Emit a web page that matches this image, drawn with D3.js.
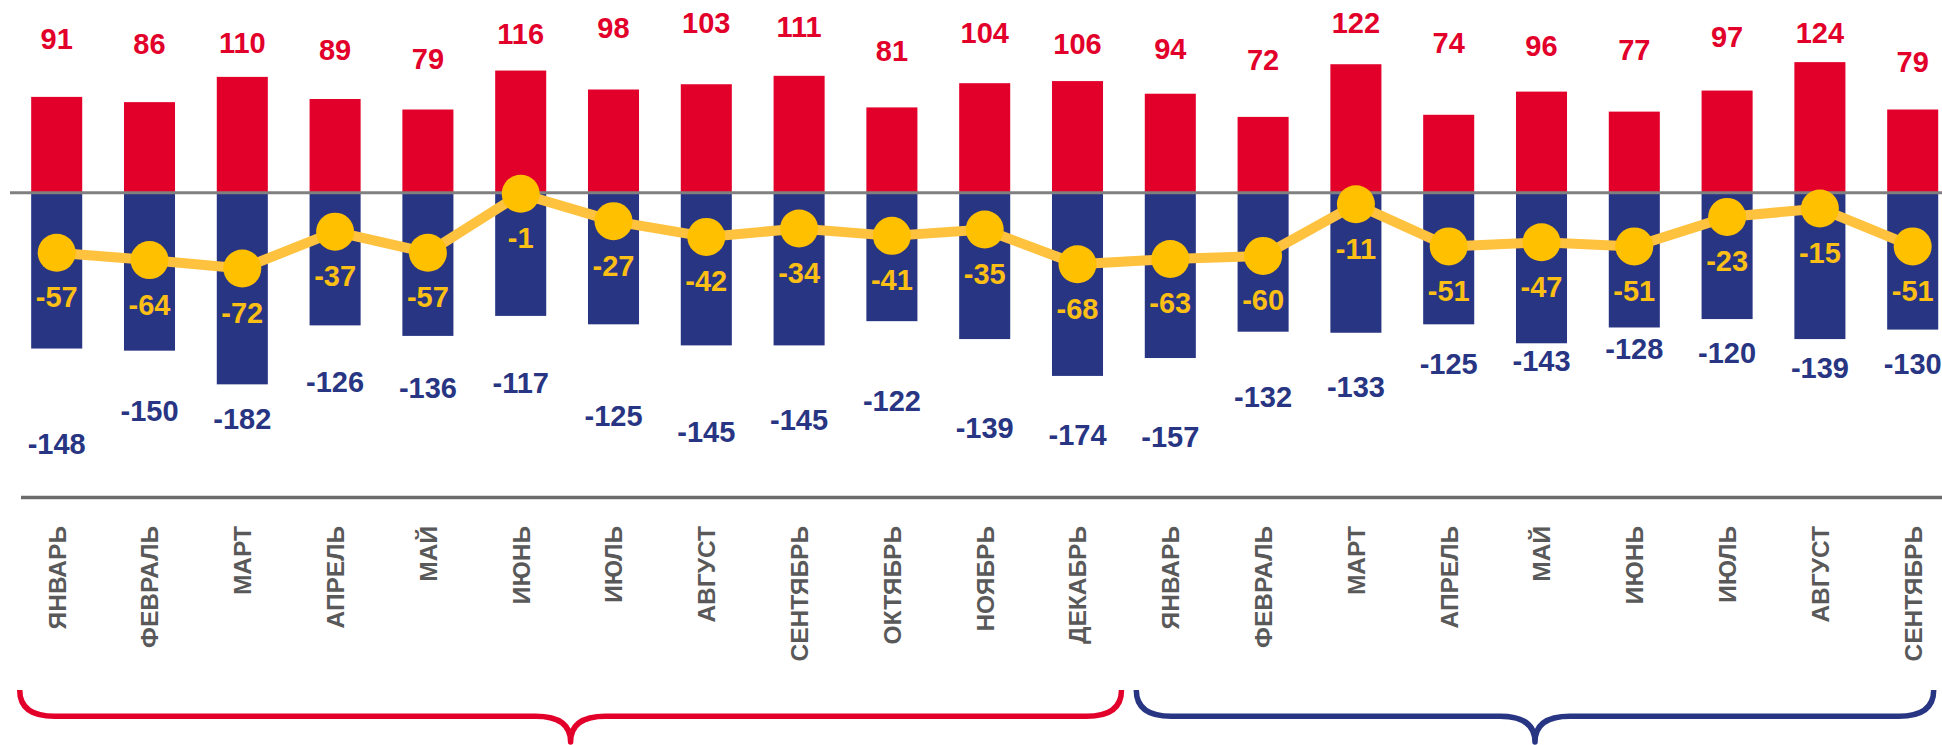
<!DOCTYPE html>
<html>
<head>
<meta charset="utf-8">
<script src="https://cdn.jsdelivr.net/npm/d3@7"></script>
<style>
  body { margin: 0; background: #fff; overflow: hidden; }
  svg { display: block; font-family: "Liberation Sans", Arial, sans-serif; }
</style>
</head>
<body>
<div id="chart"></div>
<script>
// months shown under the bars (two years, the second one stops at September)
var months = ["ЯНВАРЬ", "ФЕВРАЛЬ", "МАРТ", "АПРЕЛЬ", "МАЙ", "ИЮНЬ", "ИЮЛЬ", "АВГУСТ",
              "СЕНТЯБРЬ", "ОКТЯБРЬ", "НОЯБРЬ", "ДЕКАБРЬ",
              "ЯНВАРЬ", "ФЕВРАЛЬ", "МАРТ", "АПРЕЛЬ", "МАЙ", "ИЮНЬ", "ИЮЛЬ", "АВГУСТ", "СЕНТЯБРЬ"];

// red bars (positive), blue bars (negative) and the yellow line (balance)
var inflow  = [91, 86, 110, 89, 79, 116, 98, 103, 111, 81, 104, 106,
               94, 72, 122, 74, 96, 77, 97, 124, 79];
var outflow = [-148, -150, -182, -126, -136, -117, -125, -145, -145, -122, -139, -174,
               -157, -132, -133, -125, -143, -128, -120, -139, -130];
var balance = [-57, -64, -72, -37, -57, -1, -27, -42, -34, -41, -35, -68,
               -63, -60, -11, -51, -47, -51, -23, -15, -51];

// the labels were dragged by hand in the original, keep their gap (px) from the bar end
var inflowLabelGap  = [58, 59, 34, 49, 51, 37, 62, 62, 49, 57, 51, 38, 45, 57, 42, 72, 46, 62, 54, 30, 48];
var outflowLabelGap = [95, 60, 34, 56, 52, 67, 91, 86, 74, 79, 88, 59, 79, 65, 54, 39, 17, 21, 33, 28, 34];

// year brackets under the month names (ends given as px beyond the first / last bar centre)
var years = [
  {from: 0,  to: 11, color: "#e2002b", reach: [37, 44]},
  {from: 12, to: 20, color: "#283583", reach: [34, 21]}
];

var width = 1942, height = 745;
var red = "#e2002b", blue = "#283583", yellow = "#ffc000", gray = "#595959";

var svg = d3.select("#chart").append("svg")
    .attr("width", width)
    .attr("height", height);

var idx = d3.range(months.length);

// set the ranges
var x = d3.scaleBand()
    .domain(idx)
    .range([10.3, 1959.1])
    .paddingInner(0.45)
    .paddingOuter(0.225);

var y = d3.scaleLinear()
    .domain([-200, 150])
    .range([403.3, 34.75]);

function cx(i) { return x(i) + x.bandwidth() / 2; }

// bars
svg.selectAll(".bar-in")
    .data(inflow)
  .enter().append("rect")
    .attr("class", "bar-in")
    .attr("x", function(d, i) { return x(i); })
    .attr("width", x.bandwidth())
    .attr("y", function(d) { return y(d); })
    .attr("height", function(d) { return y(0) - y(d); })
    .style("fill", red);

svg.selectAll(".bar-out")
    .data(outflow)
  .enter().append("rect")
    .attr("class", "bar-out")
    .attr("x", function(d, i) { return x(i); })
    .attr("width", x.bandwidth())
    .attr("y", y(0))
    .attr("height", function(d) { return y(d) - y(0); })
    .style("fill", blue);

// zero line
svg.append("line")
    .attr("x1", 10).attr("x2", width)
    .attr("y1", y(0)).attr("y2", y(0))
    .style("stroke", "#808080")
    .style("stroke-width", 3);

// balance line with markers
var line = d3.line()
    .x(function(d, i) { return cx(i); })
    .y(function(d) { return y(d); });

svg.append("path")
    .datum(balance)
    .attr("d", line)
    .style("fill", "none")
    .style("stroke", "#ffc23f")
    .style("stroke-width", 10)
    .style("stroke-linejoin", "round");

svg.selectAll(".dot")
    .data(balance)
  .enter().append("circle")
    .attr("class", "dot")
    .attr("cx", function(d, i) { return cx(i); })
    .attr("cy", function(d) { return y(d); })
    .attr("r", 19)
    .style("fill", yellow);

// value labels
var fs = 29;
svg.selectAll(".lbl-in")
    .data(inflow)
  .enter().append("text")
    .attr("class", "lbl-in")
    .attr("x", function(d, i) { return cx(i); })
    .attr("y", function(d, i) { return y(d) - inflowLabelGap[i]; })
    .attr("dy", "0.36em")
    .style("text-anchor", "middle")
    .style("font-size", fs + "px")
    .style("font-weight", "bold")
    .style("fill", red)
    .text(function(d) { return d; });

svg.selectAll(".lbl-out")
    .data(outflow)
  .enter().append("text")
    .attr("class", "lbl-out")
    .attr("x", function(d, i) { return cx(i); })
    .attr("y", function(d, i) { return y(d) + outflowLabelGap[i]; })
    .attr("dy", "0.36em")
    .style("text-anchor", "middle")
    .style("font-size", fs + "px")
    .style("font-weight", "bold")
    .style("fill", blue)
    .text(function(d) { return d; });

svg.selectAll(".lbl-bal")
    .data(balance)
  .enter().append("text")
    .attr("class", "lbl-bal")
    .attr("x", function(d, i) { return cx(i); })
    .attr("y", function(d) { return y(d) + 44; })
    .attr("dy", "0.36em")
    .style("text-anchor", "middle")
    .style("font-size", fs + "px")
    .style("font-weight", "bold")
    .style("fill", "#fbbf15")
    .text(function(d) { return d; });

// bottom axis: line plus rotated month names
var axisY = 497.5;
svg.append("line")
    .attr("x1", 21).attr("x2", width)
    .attr("y1", axisY).attr("y2", axisY)
    .style("stroke", "#6b6b6b")
    .style("stroke-width", 3.5);

var xAxis = svg.append("g")
    .attr("transform", "translate(0," + axisY + ")")
    .call(d3.axisBottom(x).tickSize(0).tickFormat(function(i) { return months[i]; }));

xAxis.select(".domain").remove();
xAxis.selectAll("text")
    .attr("transform", "rotate(-90)")
    .attr("x", -28.5)
    .attr("y", 0)
    .attr("dy", "0.36em")
    .style("text-anchor", "end")
    .style("font-family", "\"Liberation Sans\", Arial, sans-serif")
    .style("font-size", "24.5px")
    .style("font-weight", "bold")
    .style("fill", gray);

// curly brackets for the two years
function brace(x0, x1) {
  var top = 690, mid = 716.3, tip = 742, r = 35, c = (x0 + x1) / 2;
  return "M" + x0 + "," + top +
         "Q" + x0 + "," + mid + " " + (x0 + r) + "," + mid +
         "L" + (c - r) + "," + mid +
         "Q" + c + "," + mid + " " + c + "," + tip +
         "Q" + c + "," + mid + " " + (c + r) + "," + mid +
         "L" + (x1 - r) + "," + mid +
         "Q" + x1 + "," + mid + " " + x1 + "," + top;
}

svg.selectAll(".brace")
    .data(years)
  .enter().append("path")
    .attr("class", "brace")
    .attr("d", function(d) {
      return brace(cx(d.from) - d.reach[0], cx(d.to) + d.reach[1]);
    })
    .style("fill", "none")
    .style("stroke", function(d) { return d.color; })
    .style("stroke-width", 5.5)
    .style("stroke-linejoin", "round");
</script>
</body>
</html>
